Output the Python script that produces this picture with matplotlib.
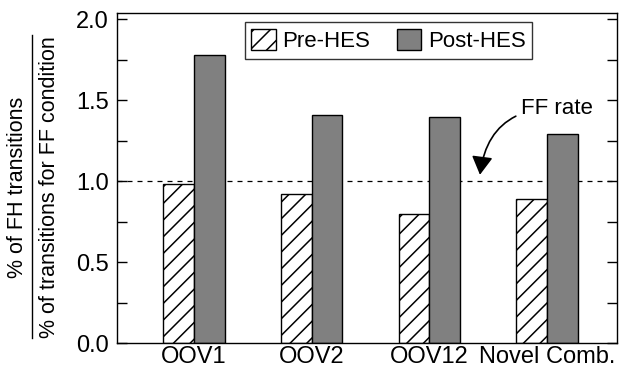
import numpy as np
import matplotlib.pyplot as plt
from matplotlib.lines import Line2D

plt.rcParams['font.family'] = ['Liberation Sans', 'DejaVu Sans']
plt.rcParams['hatch.linewidth'] = 1.1

categories = ['OOV1', 'OOV2', 'OOV12', 'Novel Comb.']
pre_hes = [0.98, 0.92, 0.80, 0.89]
post_hes = [1.78, 1.41, 1.40, 1.29]
ff_rate = 1.0

x = np.arange(len(categories))
w = 0.26

fig = plt.figure(figsize=(6.27, 3.71), dpi=100)
ax = fig.add_axes([117 / 627, 28 / 371, 500 / 627, 330 / 371])

ax.bar(x - w / 2, pre_hes, w, color='white', edgecolor='black', hatch='//',
       linewidth=1.0, label='Pre-HES', zorder=2)
ax.bar(x + w / 2, post_hes, w, color='#808080', edgecolor='black',
       linewidth=1.0, label='Post-HES', zorder=2)
ax.axhline(ff_rate, color='black', linestyle=(0, (4, 4)), linewidth=0.9, zorder=1)

ax.annotate('FF rate', xy=(2.43, 1.04), xytext=(2.78, 1.45),
            fontsize=16, ha='left', va='center',
            arrowprops=dict(arrowstyle='-|>,head_length=0.7,head_width=0.4',
                            color='black', lw=1.2, shrinkA=2, shrinkB=0,
                            connectionstyle='arc3,rad=0.45'))

ax.set_xlim(-0.655, 3.595)
ax.set_ylim(0, 2.04)
ax.set_yticks([0, 0.5, 1.0, 1.5, 2.0])
ax.set_yticklabels(['0.0', '0.5', '1.0', '1.5', '2.0'], fontsize=17)
ax.set_yticks([0.25, 0.75, 1.25, 1.75], minor=True)
ax.tick_params(axis='y', which='both', direction='in', length=7, width=1,
               right=True, pad=6)
ax.set_xticks(x)
ax.set_xticklabels(categories, fontsize=17)
ax.tick_params(axis='x', length=0, pad=2)
for s in ax.spines.values():
    s.set_linewidth(1.0)

ax.legend(loc='upper center', bbox_to_anchor=(0.543, 0.985), ncol=2,
          fontsize=16, frameon=True, fancybox=False, edgecolor='black',
          handlelength=1.1, handleheight=1.1, handletextpad=0.3,
          columnspacing=1.2, borderpad=0.3, borderaxespad=0.2)

# fraction-style y label
fig.text(18 / 627, 1 - 187 / 371, '% of FH transitions', rotation=90,
         ha='center', va='center', fontsize=15.5)
fig.text(50 / 627, 1 - 187 / 371, '% of transitions for FF condition',
         rotation=90, ha='center', va='center', fontsize=15.5)
fig.add_artist(Line2D([32 / 627, 32 / 627], [1 - 35 / 371, 1 - 338 / 371],
                      color='black', lw=1.0, transform=fig.transFigure))

fig.savefig('out.png', dpi=100)
